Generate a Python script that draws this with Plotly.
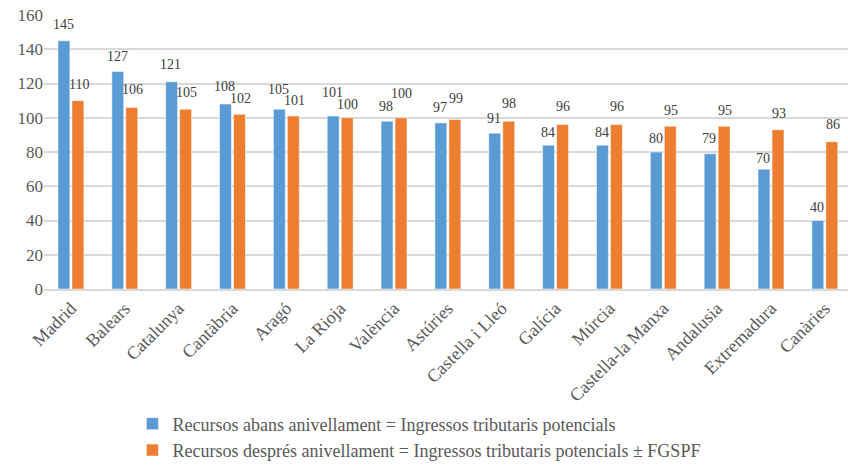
import plotly.graph_objects as go

regions = ["Madrid", "Balears", "Catalunya", "Cantàbria", "Aragó", "La Rioja",
           "València", "Astúries", "Castella i Lleó", "Galícia", "Múrcia",
           "Castella-la Manxa", "Andalusia", "Extremadura", "Canàries"]
abans = [145, 127, 121, 108, 105, 101, 98, 97, 91, 84, 84, 80, 79, 70, 40]
despres = [110, 106, 105, 102, 101, 100, 100, 99, 98, 96, 96, 95, 95, 93, 86]
y_ticks = [0, 20, 40, 60, 80, 100, 120, 140, 160]

# pixel lift of each value label above its bar (staggered where labels crowd)
lift_abans = [16, 15, 17, 18, 20, 24, 15, 15, 15, 13, 13, 14, 15, 11, 13]
lift_despres = [16, 18, 17, 16, 16, 13, 24, 21, 18, 18, 18, 16, 16, 16, 17]

FONT = "Liberation Serif, DejaVu Serif, serif"
GREY = "#595959"
LABEL = "#404040"
BAR_OFFSET_PX = 7.7

fig = go.Figure()
fig.add_trace(go.Bar(
    x=regions, y=abans,
    name="Recursos abans anivellament = Ingressos tributaris potencials",
    marker=dict(color="#5b9bd5", line=dict(color="#ffffff", width=0.5)),
))
fig.add_trace(go.Bar(
    x=regions, y=despres,
    name="Recursos després anivellament = Ingressos tributaris potencials ± FGSPF",
    marker=dict(color="#ed7d31", line=dict(color="#ffffff", width=0.5)),
))

annotations = []
for series, lifts, dx in ((abans, lift_abans, -BAR_OFFSET_PX),
                          (despres, lift_despres, BAR_OFFSET_PX)):
    for reg, val, lift in zip(regions, series, lifts):
        annotations.append(dict(
            x=reg, y=val, xref="x", yref="y", text=str(val), showarrow=False,
            xshift=dx, yshift=lift, xanchor="center", yanchor="middle",
            font=dict(family=FONT, size=14, color=LABEL),
        ))

fig.update_layout(
    width=848, height=469,
    margin=dict(l=44, r=0, t=15, b=176),
    paper_bgcolor="white", plot_bgcolor="white",
    barmode="group", bargap=0.48, bargroupgap=0.15,
    font=dict(family=FONT, color=GREY),
    annotations=annotations,
    legend=dict(
        orientation="v", x=0.11, y=-0.425, xanchor="left", yanchor="top",
        font=dict(family=FONT, size=18, color=GREY),
        itemwidth=30, tracegroupgap=5,
    ),
    xaxis=dict(
        range=[-0.5, 14.43], tickangle=-45, automargin=False,
        tickfont=dict(family=FONT, size=18, color=GREY),
        showline=True, linecolor="#d9d9d9", linewidth=1.5,
        showgrid=False, ticks="",
    ),
    yaxis=dict(
        range=[0, 160], tickvals=y_ticks, automargin=False,
        tickfont=dict(family=FONT, size=17, color=GREY),
        showgrid=True, gridcolor="#d9d9d9", gridwidth=1.5,
        zeroline=False, ticks="", showline=False,
    ),
)

fig.write_html("out.html")
